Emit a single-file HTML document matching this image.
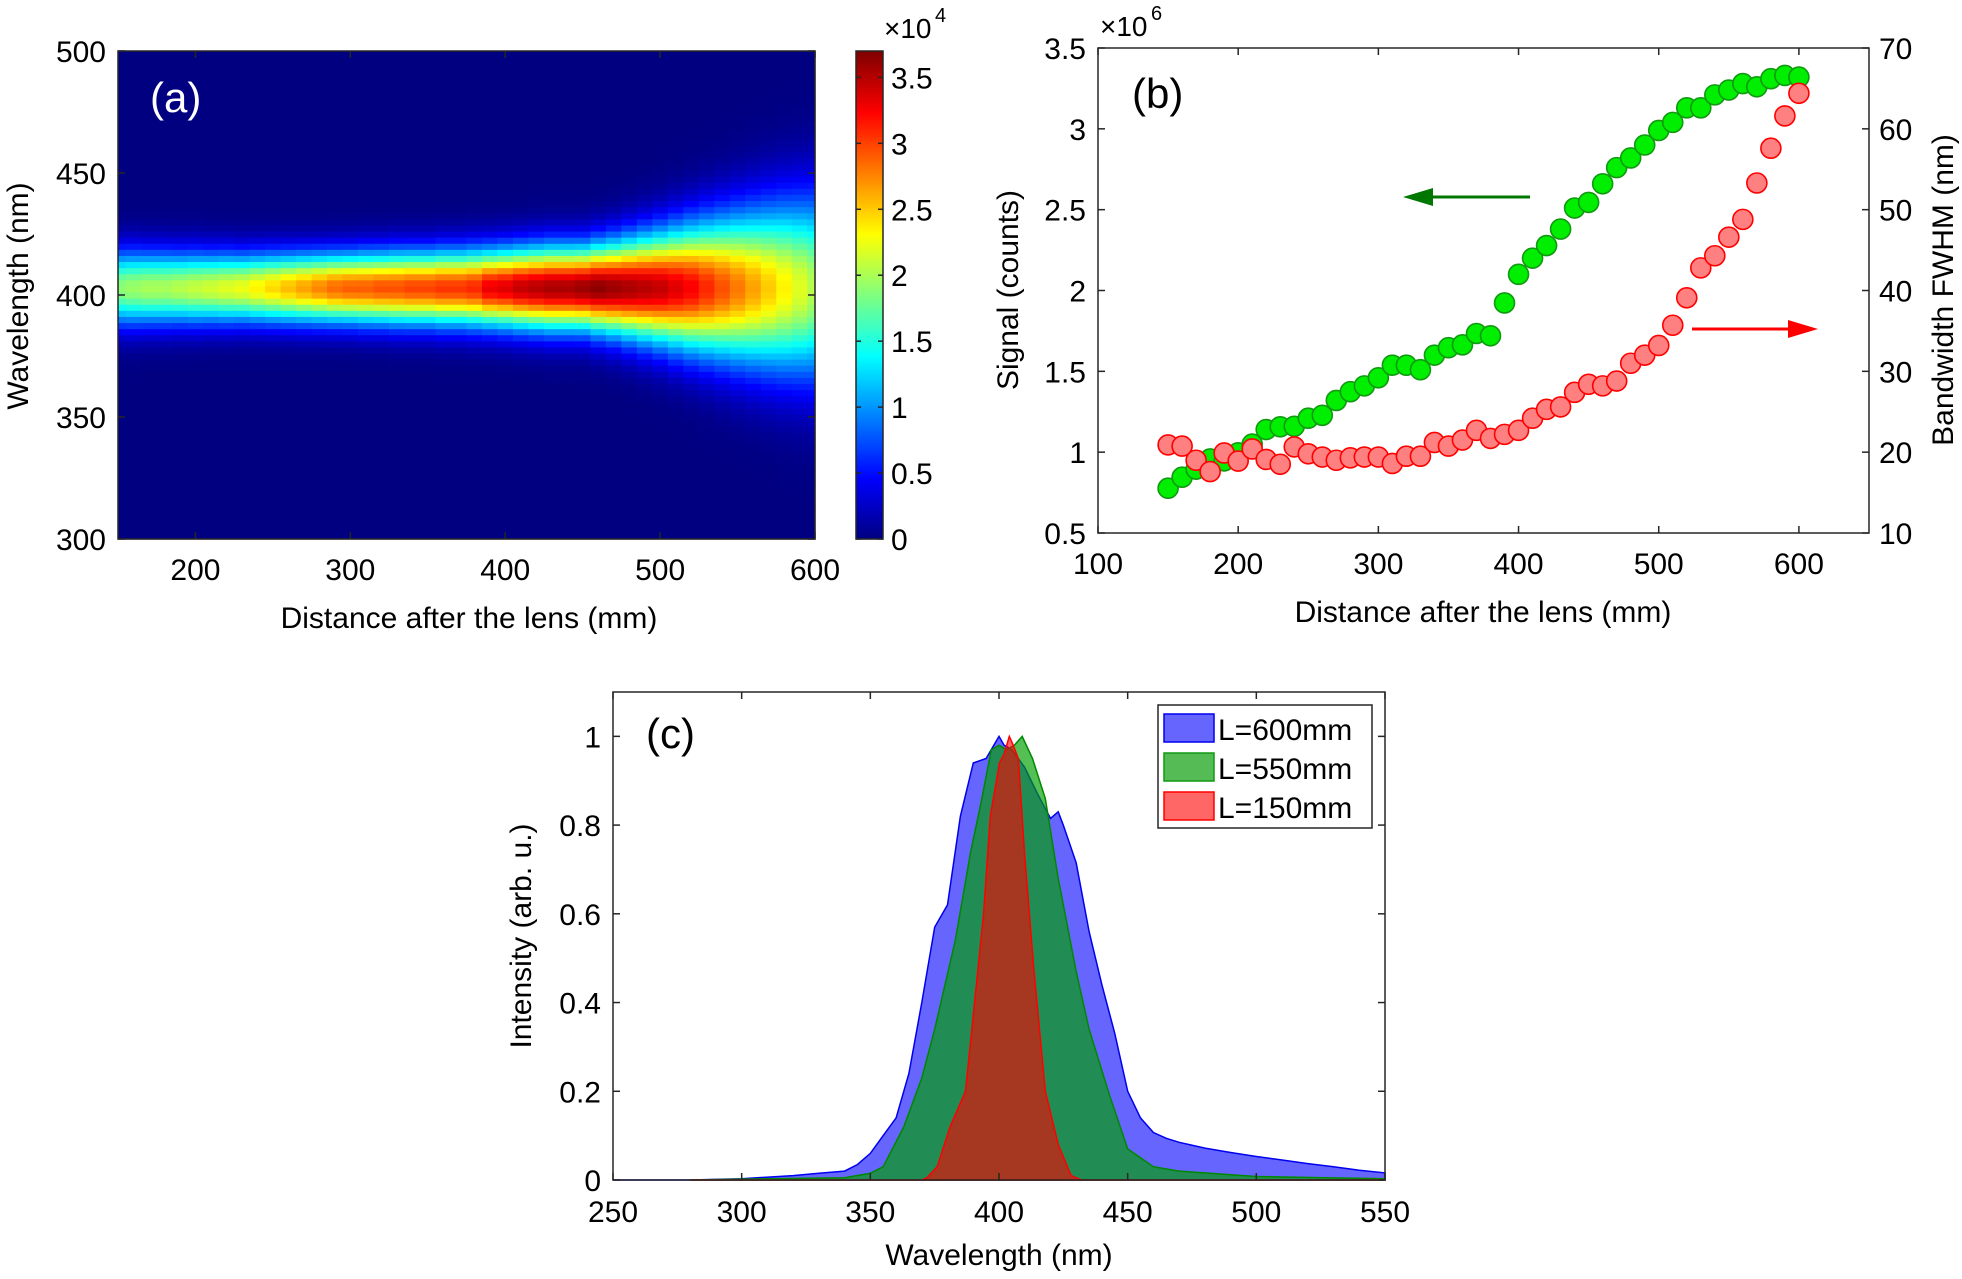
<!DOCTYPE html>
<html><head><meta charset="utf-8"><style>
html,body{margin:0;padding:0;background:#fff;}
svg text{font-family:"Liberation Sans",Arial,sans-serif;fill:#000;}
</style></head><body>
<svg id="fig" xmlns="http://www.w3.org/2000/svg" width="1962" height="1274" viewBox="0 0 1962 1274">
<g id="pa"></g>
<g id="pb"></g>
<g id="pc"></g>
</svg>
<script>
// ---------- Panel (a) data ----------
const heatDistances = [150,160,170,180,190,200,210,220,230,240,250,260,270,280,290,300,310,320,330,340,350,360,370,380,390,400,410,420,430,440,450,460,470,480,490,500,510,520,530,540,550,560,570,580,590,600];
const heatPeak = [1.9,1.95,2.0,2.0,2.05,2.1,2.15,2.2,2.25,2.35,2.45,2.55,2.65,2.75,2.85,2.9,2.9,2.95,2.95,3.0,3.0,3.05,3.05,3.1,3.3,3.35,3.45,3.5,3.55,3.55,3.6,3.65,3.6,3.55,3.5,3.45,3.35,3.25,3.1,2.95,2.8,2.65,2.5,2.35,2.2,2.05];
const heatWidth = [25,25,24.5,24.5,24,24,23.5,23.5,23,23,23,23,23,23,23,23,23.5,23.5,24,24,24,24.5,24.5,25,25,25.5,26,26.5,27,27,27,28.5,30,32,34,36,38.5,41,43.5,46,48.5,51,53.5,56,58,60];
const heatCenter = 403;
const heatXTicks = [200,300,400,500,600];
const heatYTicks = [300,350,400,450,500];
const cbTicks = [0,0.5,1,1.5,2,2.5,3,3.5];
const cbMax = 3.7;

// ---------- Panel (b) data ----------
const distB = [150,160,170,180,190,200,210,220,230,240,250,260,270,280,290,300,310,320,330,340,350,360,370,380,390,400,410,420,430,440,450,460,470,480,490,500,510,520,530,540,550,560,570,580,590,600];
const signal = [0.777,0.845,0.895,0.958,0.946,0.996,1.05,1.14,1.157,1.16,1.21,1.228,1.32,1.374,1.41,1.46,1.538,1.538,1.51,1.60,1.646,1.664,1.734,1.72,1.923,2.10,2.20,2.278,2.38,2.51,2.545,2.66,2.76,2.82,2.90,2.99,3.04,3.13,3.13,3.21,3.24,3.28,3.26,3.31,3.33,3.32];
const bandwidth = [20.9,20.75,19.0,17.6,19.9,18.9,20.4,19.1,18.5,20.65,19.8,19.4,19.0,19.3,19.4,19.4,18.6,19.5,19.5,21.2,20.75,21.5,22.7,21.7,22.2,22.7,24.2,25.3,25.6,27.4,28.4,28.2,28.8,31.0,32.0,33.2,35.7,39.1,42.8,44.3,46.6,48.8,53.3,57.6,61.6,64.4];
const bXTicks = [100,200,300,400,500,600];
const bLeftTicks = [0.5,1,1.5,2,2.5,3,3.5];
const bRightTicks = [10,20,30,40,50,60,70];

// ---------- Panel (c) data ----------
const wl600 = [250,280,300,320,330,340,345,350,355,360,365,370,375,380,385,390,395,400,402,405,410,415,420,423,425,430,435,440,445,450,455,460,465,470,480,490,500,510,520,530,540,550];
const int600 = [0,0,0.003,0.01,0.015,0.02,0.035,0.06,0.1,0.14,0.24,0.40,0.57,0.62,0.82,0.94,0.95,1.0,0.98,0.97,0.93,0.87,0.815,0.83,0.80,0.715,0.56,0.44,0.33,0.2,0.14,0.107,0.094,0.085,0.072,0.062,0.053,0.045,0.037,0.03,0.022,0.016];
const wl550 = [280,300,340,350,355,363,370,375,383,389,393,397,400,403,406,409,413,418,423,430,435,443,450,460,470,500,550];
const int550 = [0,0.002,0.005,0.015,0.03,0.12,0.23,0.34,0.54,0.74,0.85,0.97,0.98,0.97,0.98,1.0,0.95,0.86,0.68,0.47,0.34,0.19,0.07,0.03,0.02,0.008,0.003];
const wl150 = [280,370,372,376,381,387,390.5,394,396.6,400.2,402,404,405.5,407.5,410,413.6,418,423,428,432,550];
const int150 = [0,0,0.005,0.03,0.12,0.2,0.4,0.6,0.82,0.94,0.96,1.0,0.98,0.95,0.73,0.47,0.2,0.08,0.01,0,0];
const cXTicks = [250,300,350,400,450,500,550];
const cYTicks = [0,0.2,0.4,0.6,0.8,1];
const cYTickLabels = ['0','0.2','0.4','0.6','0.8','1'];
const legendLabels = ['L=600mm','L=550mm','L=150mm'];

const NS='http://www.w3.org/2000/svg';
function mk(tag,attrs,parent,text){const e=document.createElementNS(NS,tag);for(const k in attrs)e.setAttribute(k,attrs[k]);if(text!==undefined)e.textContent=text;parent.appendChild(e);return e;}
function lin(d0,d1,r0,r1){return v=>r0+(v-d0)*(r1-r0)/(d1-d0);}
function jet(t){t=Math.max(0,Math.min(1,t));const c=x=>Math.round(255*Math.max(0,Math.min(1,x)));
 return 'rgb('+c(1.5-Math.abs(4*t-3))+','+c(1.5-Math.abs(4*t-2))+','+c(1.5-Math.abs(4*t-1))+')';}
const FS=30;

// ===== Panel A =====
(function(){
 const g=document.getElementById('pa');
 const L=118,R=815,T=51,B=539;
 const x=lin(150,600,L,R), y=lin(300,500,B,T);
 const hm=mk('g',{},g);
 
 
 const dw=5, dl=1.25;
 for(let i=0;i<heatDistances.length;i++){
  const d=heatDistances[i];
  const x0=Math.max(L,x(d-dw)), x1=Math.min(R,x(d+dw));
  const s=heatWidth[i]/2.355;
  for(let w=300;w<=500;w+=2.5){
   const v=heatPeak[i]*Math.exp(-(w-heatCenter)*(w-heatCenter)/(2*s*s));
   const y0=Math.max(T,y(w+dl)), y1=Math.min(B,y(w-dl));
   const r=mk('rect',{x:x0,y:y0,width:x1-x0+0.6,height:y1-y0+0.6,fill:jet(v/cbMax)},hm);
   
   
  }
 }
 const fr=mk('rect',{x:L,y:T,width:R-L,height:B-T,fill:'none',stroke:'#262626','stroke-width':1.5},g);
  
 heatXTicks.forEach(v=>{const X=x(v);
  mk('line',{x1:X,y1:B,x2:X,y2:B-7,stroke:'#262626','stroke-width':1.5},g);
  mk('line',{x1:X,y1:T,x2:X,y2:T+7,stroke:'#262626','stroke-width':1.5},g);
  const t=mk('text',{x:X,y:B+41,'font-size':FS,'text-anchor':'middle'},g,String(v));
   });
 heatYTicks.forEach(v=>{const Y=y(v);
  mk('line',{x1:L,y1:Y,x2:L+7,y2:Y,stroke:'#262626','stroke-width':1.5},g);
  mk('line',{x1:R,y1:Y,x2:R-7,y2:Y,stroke:'#262626','stroke-width':1.5},g);
  const t=mk('text',{x:L-12,y:Y+11,'font-size':FS,'text-anchor':'end'},g,String(v));
   });
 let t=mk('text',{x:150,y:112,'font-size':42,style:'fill:#fff'},g,'(a)');
  
 t=mk('text',{x:469,y:628,'font-size':FS,'text-anchor':'middle'},g,'Distance after the lens (mm)');
  
 t=mk('text',{x:0,y:0,'font-size':FS,'text-anchor':'middle',transform:'translate(28,296) rotate(-90)'},g,'Wavelength (nm)');
  
 // colorbar
 const CL=856,CR=883;
 const cy=lin(0,cbMax,B,T);
 const cb=mk('g',{},g);
  
 const N=200;
 for(let k=0;k<N;k++){const v0=cbMax*k/N,v1=cbMax*(k+1)/N;
  mk('rect',{x:CL,y:cy(v1),width:CR-CL,height:cy(v0)-cy(v1)+0.6,fill:jet((v0+v1)/2/cbMax)},cb);}
 mk('rect',{x:CL,y:T,width:CR-CL,height:B-T,fill:'none',stroke:'#262626','stroke-width':1.5},cb);
 cbTicks.forEach(v=>{const Y=cy(v);
  mk('line',{x1:CR,y1:Y,x2:CR-5,y2:Y,stroke:'#262626','stroke-width':1.5},cb);
  mk('line',{x1:CL,y1:Y,x2:CL+5,y2:Y,stroke:'#262626','stroke-width':1.5},cb);
  const t=mk('text',{x:CR+8,y:Y+11,'font-size':FS},cb,String(v));
   });
 t=mk('text',{x:884,y:38,'font-size':28},g,'×10');
  
 mk('text',{x:935,y:22,'font-size':20},g,'4');
})();

// ===== Panel B =====
(function(){
 const g=document.getElementById('pb');
 const L=1098,R=1869,T=48,B=533;
 const x=lin(100,650,L,R), yl=lin(0.5,3.5,B,T), yr=lin(10,70,B,T);
 const fr=mk('rect',{x:L,y:T,width:R-L,height:B-T,fill:'none',stroke:'#262626','stroke-width':1.5},g);
  
 bXTicks.forEach(v=>{const X=x(v);
  mk('line',{x1:X,y1:B,x2:X,y2:B-7,stroke:'#262626','stroke-width':1.5},g);
  mk('line',{x1:X,y1:T,x2:X,y2:T+7,stroke:'#262626','stroke-width':1.5},g);
  const t=mk('text',{x:X,y:B+41,'font-size':FS,'text-anchor':'middle'},g,String(v));
   });
 bLeftTicks.forEach(v=>{const Y=yl(v);
  mk('line',{x1:L,y1:Y,x2:L+7,y2:Y,stroke:'#262626','stroke-width':1.5},g);
  const t=mk('text',{x:L-12,y:Y+11,'font-size':FS,'text-anchor':'end'},g,String(v));
   });
 bRightTicks.forEach(v=>{const Y=yr(v);
  mk('line',{x1:R,y1:Y,x2:R-7,y2:Y,stroke:'#262626','stroke-width':1.5},g);
  const t=mk('text',{x:R+10,y:Y+11,'font-size':FS},g,String(v));
   });
 const sg=mk('g',{},g);
  
 const rg=mk('g',{},g);
  
 for(let i=0;i<distB.length;i++){
  const c=mk('circle',{cx:x(distB[i]),cy:yl(signal[i]),r:10,fill:'#00ee00',stroke:'#119911','stroke-width':1.6},sg);
   
 }
 for(let i=0;i<distB.length;i++){
  const c=mk('circle',{cx:x(distB[i]),cy:yr(bandwidth[i]),r:10,fill:'#ff8080',stroke:'#ff0000','stroke-width':1.6},rg);
   
 }
 let a=mk('g',{},g);  
 mk('line',{x1:1530,y1:197,x2:1425,y2:197,stroke:'#007700','stroke-width':3},a);
 mk('polygon',{points:'1403,197 1433,188 1433,206',fill:'#007700'},a);
 a=mk('g',{},g);  
 mk('line',{x1:1692,y1:329,x2:1795,y2:329,stroke:'#ff0000','stroke-width':3},a);
 mk('polygon',{points:'1818,329 1788,320 1788,338',fill:'#ff0000'},a);
 let t=mk('text',{x:1132,y:108,'font-size':42},g,'(b)');
  
 t=mk('text',{x:1483,y:622,'font-size':FS,'text-anchor':'middle'},g,'Distance after the lens (mm)');
  
 t=mk('text',{x:0,y:0,'font-size':FS,'text-anchor':'middle',transform:'translate(1018,290) rotate(-90)'},g,'Signal (counts)');
  
 t=mk('text',{x:0,y:0,'font-size':FS,'text-anchor':'middle',transform:'translate(1953,290) rotate(-90)'},g,'Bandwidth FWHM (nm)');
  
 t=mk('text',{x:1100,y:36,'font-size':28},g,'×10');
  
 mk('text',{x:1151,y:20,'font-size':20},g,'6');
})();

// ===== Panel C =====
(function(){
 const g=document.getElementById('pc');
 const L=613,R=1385,T=692,B=1180;
 const x=lin(250,550,L,R), y=lin(0,1.1,B,T);
 function area(xs,ys,fill,stroke,op,name){
  let d='M'+x(xs[0])+','+y(0);
  for(let i=0;i<xs.length;i++)d+=' L'+x(xs[i]).toFixed(1)+','+y(ys[i]).toFixed(1);
  d+=' L'+x(xs[xs.length-1])+','+y(0)+' Z';
  const p=mk('path',{d:d,fill:fill,'fill-opacity':op,stroke:stroke,'stroke-width':1.5},g);
   
 }
 area(wl600,int600,'rgb(0,0,255)','#0000ee',0.6,'spectrum-600mm');
 area(wl550,int550,'rgb(0,160,0)','#008800',0.67,'spectrum-550mm');
 area(wl150,int150,'rgb(255,0,0)','#ff0000',0.6,'spectrum-150mm');
 const fr=mk('rect',{x:L,y:T,width:R-L,height:B-T,fill:'none',stroke:'#262626','stroke-width':1.5},g);
  
 cXTicks.forEach(v=>{const X=x(v);
  mk('line',{x1:X,y1:B,x2:X,y2:B-7,stroke:'#262626','stroke-width':1.5},g);
  mk('line',{x1:X,y1:T,x2:X,y2:T+7,stroke:'#262626','stroke-width':1.5},g);
  const t=mk('text',{x:X,y:B+42,'font-size':FS,'text-anchor':'middle'},g,String(v));
   });
 cYTicks.forEach((v,i)=>{const Y=y(v);
  mk('line',{x1:L,y1:Y,x2:L+7,y2:Y,stroke:'#262626','stroke-width':1.5},g);
  mk('line',{x1:R,y1:Y,x2:R-7,y2:Y,stroke:'#262626','stroke-width':1.5},g);
  const t=mk('text',{x:L-12,y:Y+11,'font-size':FS,'text-anchor':'end'},g,cYTickLabels[i]);
   });
 let t=mk('text',{x:646,y:748,'font-size':42},g,'(c)');
  
 t=mk('text',{x:999,y:1265,'font-size':FS,'text-anchor':'middle'},g,'Wavelength (nm)');
  
 t=mk('text',{x:0,y:0,'font-size':FS,'text-anchor':'middle',transform:'translate(531,936) rotate(-90)'},g,'Intensity (arb. u.)');
  
 const lg=mk('g',{},g);
  
 mk('rect',{x:1158,y:705,width:214,height:123,fill:'#fff',stroke:'#262626','stroke-width':1.5},lg);
 const fills=['#6666ff','#55bb55','#ff6666'], strokes=['#0000ee','#119911','#ff0000'];
 legendLabels.forEach((s,i)=>{const Y=714+i*39;
  const e=mk('g',{},lg);
   
  mk('rect',{x:1164,y:Y,width:50,height:28,fill:fills[i],stroke:strokes[i],'stroke-width':1.5},e);
  mk('text',{x:1218,y:Y+26,'font-size':30},e,s);
 });
})();
</script>
</body></html>
